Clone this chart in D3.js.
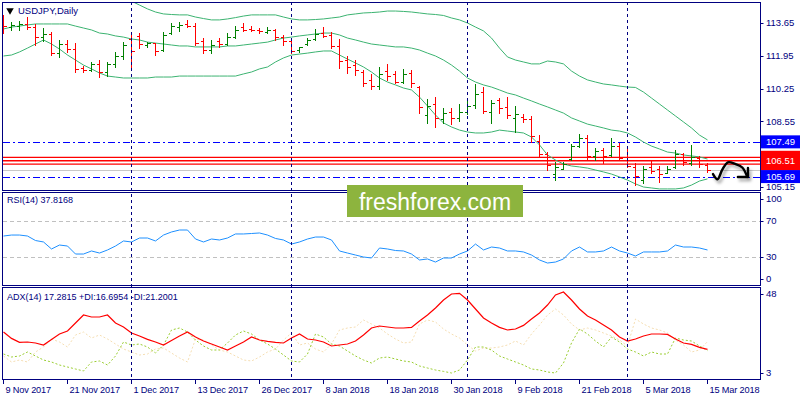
<!DOCTYPE html>
<html><head><meta charset="utf-8">
<script src="https://cdn.jsdelivr.net/npm/d3@7"></script>
<style>
html,body{margin:0;padding:0;background:#fff;}
svg{display:block;}
text{font-family:"Liberation Sans",Arial,sans-serif;}
</style>
</head><body>
<svg id="c" width="800" height="400"></svg>
<script>
// ---------------- DATA ----------------
const symbolTitle = "USDJPY,Daily";
const dates = [
"2017-11-09","2017-11-10","2017-11-13","2017-11-14","2017-11-15","2017-11-16","2017-11-17","2017-11-20","2017-11-21","2017-11-22","2017-11-23","2017-11-24","2017-11-27","2017-11-28","2017-11-29","2017-11-30",
"2017-12-01","2017-12-04","2017-12-05","2017-12-06","2017-12-07","2017-12-08","2017-12-11","2017-12-12","2017-12-13","2017-12-14","2017-12-15","2017-12-18","2017-12-19","2017-12-20","2017-12-21","2017-12-22","2017-12-26","2017-12-27","2017-12-28","2017-12-29",
"2018-01-02","2018-01-03","2018-01-04","2018-01-05","2018-01-08","2018-01-09","2018-01-10","2018-01-11","2018-01-12","2018-01-15","2018-01-16","2018-01-17","2018-01-18","2018-01-19","2018-01-22","2018-01-23","2018-01-24","2018-01-25","2018-01-26","2018-01-29","2018-01-30","2018-01-31",
"2018-02-01","2018-02-02","2018-02-05","2018-02-06","2018-02-07","2018-02-08","2018-02-09","2018-02-12","2018-02-13","2018-02-14","2018-02-15","2018-02-16","2018-02-19","2018-02-20","2018-02-21","2018-02-22","2018-02-23","2018-02-26","2018-02-27","2018-02-28",
"2018-03-01","2018-03-02","2018-03-05","2018-03-06","2018-03-07","2018-03-08","2018-03-09","2018-03-12","2018-03-13","2018-03-14","2018-03-15"];

const open = [113.85,113.45,113.50,113.62,113.45,112.90,113.10,112.10,112.55,112.30,
111.30,111.20,111.55,111.10,111.50,111.95,112.80,113.00,112.50,112.60,
112.25,113.15,113.45,113.60,113.50,112.70,112.25,112.70,112.55,112.90,
113.45,113.35,113.30,113.20,113.30,112.95,112.70,112.25,112.55,112.80,
113.15,113.05,112.45,111.75,111.45,111.10,110.70,110.40,111.15,111.00,
110.60,111.05,110.35,108.90,109.45,108.70,109.05,108.75,109.05,109.40,
110.05,109.05,109.65,109.30,108.75,108.80,108.70,107.55,106.85,105.80,
106.10,106.60,107.30,107.70,106.75,107.05,106.80,107.30,106.70,106.20,
105.50,106.20,106.10,105.90,106.20,106.85,106.40,106.65,106.30];
const high = [114.07,113.72,113.77,113.95,113.60,113.37,113.17,112.77,112.77,112.60,
111.42,111.64,111.73,111.64,112.16,112.68,113.15,113.15,112.68,112.63,
113.17,113.63,113.72,113.80,113.66,112.85,112.77,112.85,113.11,113.49,
113.66,113.49,113.37,113.42,113.32,113.03,112.85,112.42,112.85,113.32,
113.42,113.20,112.80,111.94,111.73,111.21,111.01,111.35,111.52,111.18,
111.25,111.21,110.38,109.69,109.80,109.23,109.23,109.45,109.69,110.49,
110.32,109.66,109.75,109.83,109.35,108.93,108.83,107.85,106.98,106.43,
106.45,107.38,107.90,107.85,107.17,107.17,107.69,107.43,107.28,106.39,
106.24,106.50,106.24,106.24,107.07,106.91,107.33,106.76,106.39];
const low = [113.12,113.29,113.29,113.32,112.51,112.73,111.99,111.90,112.16,111.13,
111.09,111.18,110.83,110.90,111.38,111.77,111.38,112.33,112.42,111.99,
112.22,113.08,113.25,113.46,112.51,112.08,112.08,112.42,112.51,112.85,
113.25,113.25,113.15,113.15,112.77,112.51,112.08,112.16,112.51,112.77,
112.94,112.33,111.30,111.07,110.95,110.38,110.21,110.21,110.70,110.52,
110.56,110.32,108.97,108.48,108.28,108.48,108.42,108.59,108.93,109.23,
109.00,108.48,108.97,108.71,108.02,108.53,107.50,106.69,106.03,105.51,
106.08,106.55,107.22,106.55,106.55,106.39,106.76,106.55,106.19,105.25,
105.36,105.88,105.41,105.88,106.13,106.29,106.29,106.19,105.93];
const close = [113.50,113.55,113.58,113.45,112.90,113.10,112.10,112.55,112.30,111.25,
111.20,111.50,111.10,111.50,111.95,112.50,112.20,112.55,112.60,112.20,
113.05,113.50,113.55,113.50,112.60,112.25,112.50,112.55,112.90,113.30,
113.30,113.30,113.25,113.30,112.95,112.70,112.20,112.40,112.75,113.10,
113.00,112.45,111.70,111.35,111.20,110.55,110.40,111.00,110.90,110.60,
111.00,110.55,109.30,109.35,108.75,109.00,108.75,109.05,109.35,109.95,
109.10,109.50,109.25,108.90,108.95,108.70,107.80,106.85,106.30,106.20,
106.35,107.30,107.70,106.75,107.00,106.75,107.30,106.65,106.25,105.70,
106.10,106.00,105.80,106.10,106.85,106.45,106.70,106.35,106.03];

const bbUpper = [114.85,114.95,115.00,115.05,115.05,115.00,115.05,115.10,115.15,115.15,
115.10,115.05,115.00,114.95,114.90,114.85,114.78,114.58,114.38,114.22,
114.12,114.09,114.07,114.07,113.96,113.88,113.81,113.81,113.86,113.93,
114.01,114.07,114.07,114.07,114.07,113.96,113.86,113.81,113.81,113.83,
113.86,113.91,113.96,114.07,114.12,114.17,114.19,114.22,114.27,114.27,
114.25,114.22,114.17,114.12,114.09,114.04,113.91,113.81,113.65,113.44,
113.24,112.87,112.35,111.89,111.73,111.63,111.53,111.53,111.68,111.63,
111.53,111.16,110.90,110.70,110.59,110.49,110.44,110.38,110.33,110.31,
110.07,109.76,109.45,109.14,108.83,108.52,108.21,107.84,107.59];
const bbMiddle = [113.34,113.44,113.49,113.55,113.60,113.60,113.60,113.60,113.60,113.49,
113.39,113.29,113.13,113.08,112.98,112.92,112.82,112.77,112.66,112.61,
112.56,112.51,112.46,112.46,112.41,112.41,112.41,112.41,112.46,112.46,
112.51,112.56,112.61,112.66,112.77,112.87,112.92,112.98,113.03,113.08,
113.13,113.13,113.03,112.87,112.77,112.66,112.56,112.51,112.46,112.41,
112.41,112.35,112.25,112.09,111.94,111.73,111.47,111.16,110.80,110.59,
110.44,110.33,110.18,110.02,109.92,109.76,109.61,109.45,109.30,109.14,
108.98,108.73,108.57,108.41,108.31,108.21,108.10,108.05,107.95,107.74,
107.48,107.27,107.12,106.96,106.91,106.81,106.76,106.71,106.60];
const bbLower = [111.94,111.99,112.15,112.35,112.56,112.77,112.56,112.30,111.99,111.73,
111.47,111.27,111.06,110.90,110.85,110.80,110.80,110.80,110.80,110.85,
110.85,110.85,110.90,110.90,110.90,110.90,110.90,110.90,110.90,110.90,
111.01,111.11,111.27,111.37,111.63,111.84,111.99,112.04,112.09,112.15,
112.20,112.20,111.99,111.78,111.58,111.37,111.11,110.80,110.59,110.44,
110.28,110.18,109.81,109.35,108.88,108.47,108.26,108.10,108.00,107.95,
107.95,108.00,108.10,108.05,108.00,107.95,107.74,107.33,106.81,106.55,
106.34,106.24,106.19,106.13,106.03,105.93,105.82,105.67,105.51,105.31,
105.15,105.10,105.05,105.05,105.05,105.10,105.25,105.46,105.57];

const rsi = [53.3,54.4,54.4,53.3,48.3,46.7,38.9,43.3,42.2,33.3,
33.3,36.7,34.4,37.8,42.2,47.8,46.7,51.1,51.1,47.8,
54.4,57.8,60.0,60.0,50.0,46.7,50.0,48.9,51.1,55.6,
55.6,56.1,56.7,54.4,50.6,48.9,44.4,46.7,50.0,52.2,
52.2,48.9,36.7,34.4,32.2,30.0,28.9,40.0,38.9,37.2,
36.7,33.3,26.7,27.8,24.4,28.9,28.9,33.3,36.7,44.4,
37.8,41.1,40.0,36.7,36.7,35.6,32.2,26.7,23.3,24.4,
27.8,36.7,41.1,35.6,35.6,36.7,41.1,36.7,34.4,31.1,
35.6,35.6,35.6,36.7,43.3,41.1,41.1,40.0,37.8];

const adx = [26.0,22.8,20.8,21.0,20.5,19.5,22.3,25.0,26.5,30.5,
34.5,33.5,33.5,34.5,30.5,28.5,25.5,24.0,22.3,21.0,
19.5,21.8,24.0,26.0,23.5,21.5,20.0,18.5,17.0,19.0,
21.0,23.5,22.0,21.3,20.8,20.5,23.0,25.0,22.5,22.0,
21.0,19.0,19.5,20.0,21.5,24.5,28.0,29.0,28.5,28.0,
28.0,28.3,31.5,34.5,38.0,42.0,45.0,45.3,42.0,37.5,
33.0,30.5,28.3,27.0,27.5,29.3,32.5,35.5,39.5,44.5,
46.0,42.0,37.5,34.0,32.0,29.5,27.0,23.5,21.5,22.5,
24.0,25.0,25.0,24.8,22.5,20.5,19.8,18.3,17.3];
const plusDI = [15.0,13.5,14.0,16.0,14.0,12.0,11.0,9.5,8.5,7.5,
6.5,11.0,11.5,9.5,14.0,21.0,19.5,20.0,18.5,15.5,
19.5,27.0,28.0,26.0,22.0,19.0,17.0,17.0,20.5,24.5,
26.5,25.0,22.0,20.0,17.5,14.5,11.5,11.0,15.0,25.0,
23.5,20.0,19.0,16.5,14.0,12.0,10.5,13.0,13.5,12.5,
11.5,11.0,9.0,8.0,7.0,6.3,5.5,7.0,12.0,18.5,
18.5,17.0,14.0,12.5,11.0,9.5,7.5,7.0,6.0,5.5,
10.5,20.5,27.5,25.0,21.5,18.5,23.5,21.0,17.5,16.0,
14.0,16.0,15.0,15.0,23.0,22.0,21.5,19.0,16.7];
const minusDI = [14.0,11.0,12.0,11.0,16.0,18.5,22.5,21.0,18.5,24.5,
26.0,23.0,24.5,22.5,20.0,17.5,16.0,14.5,15.0,17.5,
18.0,15.5,13.0,11.0,22.5,22.0,19.5,17.0,16.0,14.0,
12.0,11.5,13.5,16.0,17.5,22.0,25.5,19.5,20.5,17.5,
16.0,20.0,27.0,28.0,28.5,32.0,30.0,28.0,25.0,22.5,
20.5,21.0,30.0,32.0,31.0,27.5,25.0,23.0,19.5,16.5,
18.0,18.0,18.5,19.5,21.5,19.5,25.0,29.5,34.5,37.5,
34.5,30.0,27.0,28.0,27.0,25.5,24.0,22.0,19.0,32.5,
30.0,28.0,27.0,25.5,22.0,19.5,16.0,17.0,21.2];

const priceTicks = [113.65,111.95,110.25,108.55,105.15];
const rsiTicks = [100,70,30,0];
const rsiLevels = [70,30];
const adxTicks = [48,3];
const rsiLabel = "RSI(14) 37.8168";
const adxLabel = "ADX(14) 17.2815 +DI:16.6954 -DI:21.2001";
const resistance = 107.49, support = 105.69;
const redLevels = [106.69, 106.34, 106.51];
const resistanceSpan = [64.6, 94.0];   // bar index range of drawn trend segment
const supportSpan = [68.0, 94.0];
const arrowPath = [[88.69,105.82],[89.25,105.55],[89.85,106.05],[90.55,106.43],[91.45,106.35],[92.35,106.16],[92.94,105.70]];
const arrowHead = [[91.8,105.67],[93.06,105.67],[93.06,106.14]];
const tickEvery = 8;
const watermark = "freshforex.com";

// ---------------- LAYOUT ----------------
const navy = "#000080";
const svg = d3.select("#c");
const n = close.length;
const frameL = 2.5, frameR = 760.5;
const P = {main:[2,190], rsi:[192,285], adx:[287,379]};

const x = d3.scaleLinear().domain([0, n-1]).range([3.5, 3.5 + 8*(n-1)]);
const y = d3.scaleLinear().domain([105.15, 113.65]).range([187, 23]);
const yR = d3.scaleLinear().domain([0,100]).range([284,194]);
const yA = d3.scaleLinear().domain([3,48]).range([378,288]);
const parse = d3.utcParse("%Y-%m-%d"), fmt = d3.utcFormat("%-d %b %Y");
const dts = dates.map(parse);
const crisp = v => Math.round(v) + 0.5;

const defs = svg.append("defs");
defs.append("clipPath").attr("id","cm").append("rect")
  .attr("x",3).attr("y",P.main[0]+0.5).attr("width",frameR-3).attr("height",P.main[1]-P.main[0]);
defs.append("clipPath").attr("id","cr").append("rect")
  .attr("x",3).attr("y",P.rsi[0]+0.5).attr("width",frameR-3).attr("height",P.rsi[1]-P.rsi[0]);
defs.append("clipPath").attr("id","ca").append("rect")
  .attr("x",3).attr("y",P.adx[0]+0.5).attr("width",frameR-3).attr("height",P.adx[1]-P.adx[0]);
const f1 = defs.append("filter").attr("id","sh").attr("x","-20%").attr("y","-50%").attr("width","140%").attr("height","300%");
f1.append("feDropShadow").attr("dx",2).attr("dy",3).attr("stdDeviation",1.8).attr("flood-color","#000").attr("flood-opacity",0.35);
const f2 = defs.append("filter").attr("id","shl").attr("x","-5%").attr("y","-400%").attr("width","110%").attr("height","900%");
f2.append("feDropShadow").attr("dx",0).attr("dy",3).attr("stdDeviation",2).attr("flood-color","#000").attr("flood-opacity",0.3);

svg.append("rect").attr("width",800).attr("height",400).attr("fill","#fff");

// ---------------- MAIN PANEL ----------------
const gm = svg.append("g").attr("clip-path","url(#cm)");

gm.append("line").attr("x1",3).attr("x2",frameR).attr("y1",crisp(y(close[n-1]))).attr("y2",crisp(y(close[n-1])))
  .attr("stroke","#c8c8c8").attr("stroke-width",1);
[resistance, support].forEach(v=>{
  gm.append("line").attr("x1",3).attr("x2",frameR).attr("y1",crisp(y(v))).attr("y2",crisp(y(v)))
    .attr("stroke","#0000ff").attr("stroke-width",1).attr("stroke-dasharray","7,3,2,3");
});
redLevels.forEach(v=>{
  gm.append("line").attr("x1",3).attr("x2",frameR).attr("y1",y(v)).attr("y2",y(v))
    .attr("stroke","#ff0000").attr("stroke-width",1.3);
});
[[resistance,resistanceSpan],[support,supportSpan]].forEach(([v,s])=>{
  gm.append("line").attr("x1",x(s[0])).attr("x2",x(s[1])).attr("y1",crisp(y(v))).attr("y2",crisp(y(v)))
    .attr("stroke","#0000ff").attr("stroke-width",1.5).attr("filter","url(#shl)");
});

const bbLine = arr => d3.line().x((d,i)=>x(i)).y(d=>y(d))(arr);
[bbUpper,bbMiddle,bbLower].forEach(arr=>{
  gm.append("path").attr("d",bbLine(arr)).attr("fill","none").attr("stroke","#3cb371").attr("stroke-width",1);
});

const gb = gm.append("g").attr("shape-rendering","crispEdges");
d3.range(n).forEach(i=>{
  const c = close[i] >= open[i] ? "#008000" : "#ff0000";
  const xi = x(i);
  gb.append("line").attr("x1",xi).attr("x2",xi).attr("y1",Math.round(y(high[i]))).attr("y2",Math.round(y(low[i]))+1).attr("stroke",c);
  gb.append("line").attr("x1",xi-3).attr("x2",xi).attr("y1",crisp(y(open[i]))).attr("y2",crisp(y(open[i]))).attr("stroke",c);
  gb.append("line").attr("x1",xi).attr("x2",xi+3.5).attr("y1",crisp(y(close[i]))).attr("y2",crisp(y(close[i]))).attr("stroke",c);
});

const ap = d3.line().x(d=>x(d[0])).y(d=>y(d[1])).curve(d3.curveCatmullRom);
const ga = svg.append("g").attr("filter","url(#sh)");
ga.append("path").attr("d",ap(arrowPath)).attr("fill","none").attr("stroke","#000").attr("stroke-width",2.4).attr("stroke-linecap","round");
ga.append("path").attr("d",d3.line().x(d=>x(d[0])).y(d=>y(d[1]))(arrowHead)).attr("fill","none").attr("stroke","#000").attr("stroke-width",2.4).attr("stroke-linecap","round").attr("stroke-linejoin","round");

svg.append("path").attr("d",d3.symbol().type(d3.symbolTriangle).size(24)()).attr("transform","translate(10,10.5) rotate(180)").attr("fill","#000");
svg.append("text").attr("x",18).attr("y",14).attr("font-size",9.5).attr("fill",navy).text(symbolTitle);

// ---------------- RSI PANEL ----------------
const gr = svg.append("g").attr("clip-path","url(#cr)");
rsiLevels.forEach(v=>{
  gr.append("line").attr("x1",3).attr("x2",frameR).attr("y1",crisp(yR(v))).attr("y2",crisp(yR(v)))
    .attr("stroke","#c0c0c0").attr("stroke-dasharray","4,3");
});
gr.append("path").attr("d",d3.line().x((d,i)=>x(i)).y(d=>yR(d))(rsi)).attr("fill","none").attr("stroke","#1e90ff").attr("stroke-width",1);
svg.append("text").attr("x",7).attr("y",203).attr("font-size",9).attr("fill",navy).text(rsiLabel);

// ---------------- ADX PANEL ----------------
const gd = svg.append("g").attr("clip-path","url(#ca)");
const al = arr => d3.line().x((d,i)=>x(i)).y(d=>yA(d))(arr);
gd.append("path").attr("d",al(minusDI)).attr("fill","none").attr("stroke","#f5deb3").attr("stroke-width",1).attr("stroke-dasharray","2,2");
gd.append("path").attr("d",al(plusDI)).attr("fill","none").attr("stroke","#9acd32").attr("stroke-width",1).attr("stroke-dasharray","2,2");
gd.append("path").attr("d",al(adx)).attr("fill","none").attr("stroke","#ff0000").attr("stroke-width",1.2);
svg.append("text").attr("x",7).attr("y",300).attr("font-size",9).attr("fill",navy).text(adxLabel);

// ---------------- SEPARATORS & FRAMES ----------------
const sepIdx = d3.range(1,n).filter(i=>dts[i].getUTCMonth()!==dts[i-1].getUTCMonth());
sepIdx.forEach(i=>{
  svg.append("line").attr("x1",x(i)).attr("x2",x(i)).attr("y1",P.main[0]).attr("y2",P.adx[1])
    .attr("stroke",navy).attr("stroke-width",1).attr("stroke-dasharray","3,3");
});
Object.values(P).forEach(([t,b])=>{
  svg.append("rect").attr("x",frameL).attr("y",t+0.5).attr("width",frameR-frameL).attr("height",b-t)
    .attr("fill","none").attr("stroke",navy).attr("stroke-width",1);
});

// ---------------- RIGHT AXES ----------------
function axisLabels(ticks, sc, top, bottom, fmtF, clamp){
  ticks.forEach(t=>{
    let yy = sc(t);
    if (clamp) yy = Math.max(top+7, Math.min(bottom-6, yy));
    svg.append("line").attr("x1",frameR).attr("x2",frameR+3).attr("y1",crisp(yy)).attr("y2",crisp(yy)).attr("stroke",navy);
    svg.append("text").attr("x",766).attr("y",yy).attr("dy","0.35em").attr("font-size",9.5).attr("fill",navy).text(fmtF(t));
  });
}
axisLabels(priceTicks, y, P.main[0], P.main[1], d=>d.toFixed(2), false);
axisLabels(rsiTicks, yR, P.rsi[0], P.rsi[1], d=>String(d), true);
axisLabels(adxTicks, yA, P.adx[0], P.adx[1], d=>String(d), true);

function tag(v, col){
  const yy = y(v);
  svg.append("rect").attr("x",761).attr("y",yy-6.5).attr("width",39).attr("height",13).attr("fill",col);
  svg.append("text").attr("x",766).attr("y",yy).attr("dy","0.36em").attr("font-size",9.5).attr("fill","#fff").text(v.toFixed(2));
}
tag(resistance,"#0000ff");
redLevels.forEach(v=>tag(v,"#ff0000"));
tag(support,"#0000ff");

// ---------------- DATE AXIS ----------------
d3.range(0,n,tickEvery).forEach(i=>{
  svg.append("line").attr("x1",x(i)).attr("x2",x(i)).attr("y1",P.adx[1]).attr("y2",P.adx[1]+5).attr("stroke",navy);
  svg.append("text").attr("x",x(i)+2).attr("y",393).attr("font-size",9.2).attr("letter-spacing","-0.15px").attr("fill",navy).text(fmt(dts[i]));
});

// ---------------- WATERMARK ----------------
svg.append("rect").attr("x",347).attr("y",185).attr("width",176).attr("height",32).attr("fill","#8db43e");
svg.append("text").attr("x",435).attr("y",210).attr("text-anchor","middle").attr("font-family","'Open Sans',sans-serif")
  .attr("font-size",23).attr("fill","#fff").text(watermark);
</script>
</body></html>
